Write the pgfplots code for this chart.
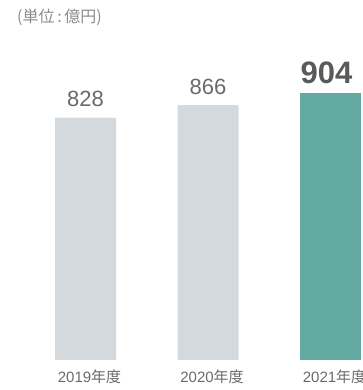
\documentclass[border=0pt]{standalone}
\usepackage{fontspec}
\setmainfont{Liberation Sans}
\newfontfamily\cjk{Noto Sans CJK JP}
\usepackage{pgfplots}
\pgfplotsset{compat=1.18}
\definecolor{bargray}{HTML}{D4D9DD}
\definecolor{barteal}{HTML}{62A9A1}
\definecolor{txtgray}{HTML}{6A6A6A}
\definecolor{numdark}{HTML}{5A5A5A}
\definecolor{titlegray}{HTML}{8C8C8C}
\begin{document}
\begin{tikzpicture}
\useasboundingbox (0,0) rectangle (363pt,390pt);
\clip (0,0) rectangle (363pt,390pt);
\node[anchor=west, text=titlegray, font=\fontsize{16}{18}\selectfont\cjk, inner sep=0pt] at (17pt,373pt) {(単位\,:\,億円)};
\begin{axis}[
  at={(0pt,30pt)}, anchor=south west,
  scale only axis, width=363pt, height=360pt,
  xmin=-0.698, xmax=2.265,
  ymin=91.2, ymax=1185.4,
  axis line style={draw=none},
  ytick=\empty,
  xtick={0,1,2},
  xticklabels={2019{\cjk 年度},2020{\cjk 年度},2021{\cjk 年度}},
  major tick length=0pt,
  xticklabel style={anchor=base, yshift=-23pt, xshift=4pt, text=txtgray, font=\fontsize{15}{17}\selectfont},
  ybar, bar width=61pt, bar shift=0pt,
  point meta=explicit symbolic,
  nodes near coords,
  nodes near coords align={vertical},
]
\addplot[fill=bargray, draw=none,
  every node near coord/.append style={anchor=base, yshift=11pt, text=txtgray, font=\fontsize{22}{24}\selectfont}]
  coordinates {(0,828) [828] (1,866) [866]};
\addplot[fill=barteal, draw=none,
  every node near coord/.append style={anchor=base, yshift=9pt, xshift=-4pt, text=numdark, font=\fontsize{31}{34}\selectfont\bfseries}]
  coordinates {(2,904) [904]};
\end{axis}
\end{tikzpicture}
\end{document}
